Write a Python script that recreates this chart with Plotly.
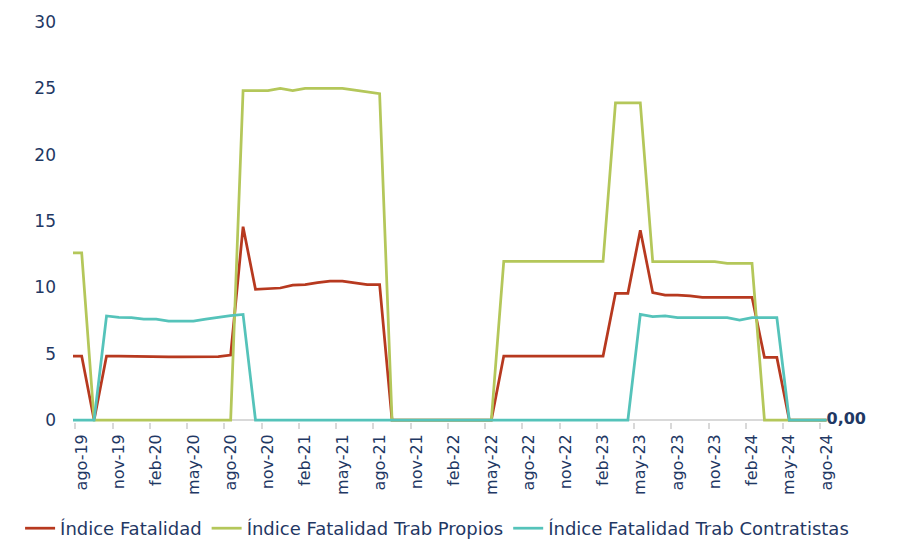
import plotly.graph_objects as go

# monthly labels, jul-19 is the leading point that is mostly clipped at the left edge
MONTHS = [
    "jul-19",
    "ago-19", "sep-19", "oct-19", "nov-19", "dic-19",
    "ene-20", "feb-20", "mar-20", "abr-20", "may-20", "jun-20", "jul-20",
    "ago-20", "sep-20", "oct-20", "nov-20", "dic-20",
    "ene-21", "feb-21", "mar-21", "abr-21", "may-21", "jun-21", "jul-21",
    "ago-21", "sep-21", "oct-21", "nov-21", "dic-21",
    "ene-22", "feb-22", "mar-22", "abr-22", "may-22", "jun-22", "jul-22",
    "ago-22", "sep-22", "oct-22", "nov-22", "dic-22",
    "ene-23", "feb-23", "mar-23", "abr-23", "may-23", "jun-23", "jul-23",
    "ago-23", "sep-23", "oct-23", "nov-23", "dic-23",
    "ene-24", "feb-24", "mar-24", "abr-24", "may-24", "jun-24", "jul-24",
    "ago-24",
]

FATALIDAD = [
    4.82,
    4.82, 0, 4.82, 4.82, 4.80,
    4.75, 4.75, 4.75, 4.75, 4.75, 4.75, 4.78,
    4.90, 14.57, 9.85, 9.92, 9.95,
    10.17, 10.20, 10.35, 10.47, 10.47, 10.35, 10.20,
    10.20, 0, 0, 0, 0,
    0, 0, 0, 0, 0, 4.82, 4.82,
    4.82, 4.82, 4.82, 4.82, 4.82,
    4.82, 4.82, 9.55, 9.55, 14.30, 9.60, 9.42,
    9.42, 9.35, 9.25, 9.25, 9.25,
    9.25, 9.25, 4.72, 4.72, 0, 0, 0,
    0,
]

PROPIOS = [
    12.60,
    12.60, 0, 0, 0, 0,
    0, 0, 0, 0, 0, 0, 0,
    0, 24.82, 24.82, 24.82, 25.00,
    24.82, 25.00, 25.00, 25.00, 25.00, 24.87, 24.75,
    24.60, 0, 0, 0, 0,
    0, 0, 0, 0, 0, 11.95, 11.95,
    11.95, 11.95, 11.95, 11.95, 11.95,
    11.95, 11.95, 23.90, 23.90, 23.90, 11.93, 11.93,
    11.93, 11.93, 11.93, 11.93, 11.80,
    11.80, 11.80, 0, 0, 0, 0, 0,
    0,
]

CONTRATISTAS = [
    0,
    0, 0, 7.84, 7.74, 7.72,
    7.60, 7.60, 7.46, 7.46, 7.46, 7.60, 7.74,
    7.86, 7.96, 0, 0, 0,
    0, 0, 0, 0, 0, 0, 0,
    0, 0, 0, 0, 0,
    0, 0, 0, 0, 0, 0, 0,
    0, 0, 0, 0, 0,
    0, 0, 0, 0, 7.96, 7.80, 7.84,
    7.71, 7.71, 7.71, 7.71, 7.71,
    7.54, 7.71, 7.71, 7.71, 0, 0, 0,
    0,
]

NAVY = "#1F3864"
FONT = "DejaVu Sans"

x = list(range(-1, len(MONTHS) - 1))
tick_idx = list(range(0, len(MONTHS) - 1, 3))
tick_text = [MONTHS[i + 1] for i in tick_idx]

last_label = [""] * (len(CONTRATISTAS) - 1) + [f"{CONTRATISTAS[-1]:.2f}".replace(".", ",")]

fig = go.Figure()
fig.add_trace(go.Scatter(
    x=x, y=FATALIDAD, name="Índice Fatalidad", mode="lines",
    line=dict(color="#B7391F", width=2.75),
))
fig.add_trace(go.Scatter(
    x=x, y=PROPIOS, name="Índice Fatalidad Trab Propios", mode="lines",
    line=dict(color="#B4C75A", width=2.75),
))
fig.add_trace(go.Scatter(
    x=x, y=CONTRATISTAS, name="Índice Fatalidad Trab Contratistas", mode="lines+text",
    line=dict(color="#55C3BA", width=2.75),
    text=last_label, textposition="middle right",
    textfont=dict(family=FONT, size=16, color=NAVY, weight="bold"),
    cliponaxis=False,
))

fig.update_layout(
    width=901, height=542,
    margin=dict(l=73, r=72, t=22, b=120, autoexpand=False),
    paper_bgcolor="white", plot_bgcolor="white",
    font=dict(family=FONT, size=17, color=NAVY),
    showlegend=True,
    legend=dict(
        orientation="h", x=-0.07, xanchor="left", y=-0.22, yanchor="top",
        font=dict(family=FONT, size=18, color=NAVY),
        tracegroupgap=0,
    ),
    xaxis=dict(
        range=[-0.7, 60.2], showgrid=False, zeroline=False, showline=False,
        automargin=False,
        tickmode="array", tickvals=tick_idx, ticktext=tick_text,
        tickangle=-90, ticks="", ticklabelstandoff=8,
        tickfont=dict(family=FONT, size=16, color=NAVY),
        minor=dict(
            tickmode="array", tickvals=[i - 0.5 for i in tick_idx],
            ticks="outside", ticklen=6, tickwidth=2, tickcolor="#D9D9D9", showgrid=False,
        ),
    ),
    yaxis=dict(
        range=[-0.15, 30], showgrid=False, showline=False, automargin=False,
        zeroline=True, zerolinecolor="#D9D9D9", zerolinewidth=2,
        tickmode="array", tickvals=[0, 5, 10, 15, 20, 25, 30],
        ticks="", ticklabelstandoff=16,
        tickfont=dict(family=FONT, size=17, color=NAVY),
    ),
)

fig.write_html(
    "out.html",
    config={"displayModeBar": False},
    post_script="document.body.style.margin = '0';",
)
